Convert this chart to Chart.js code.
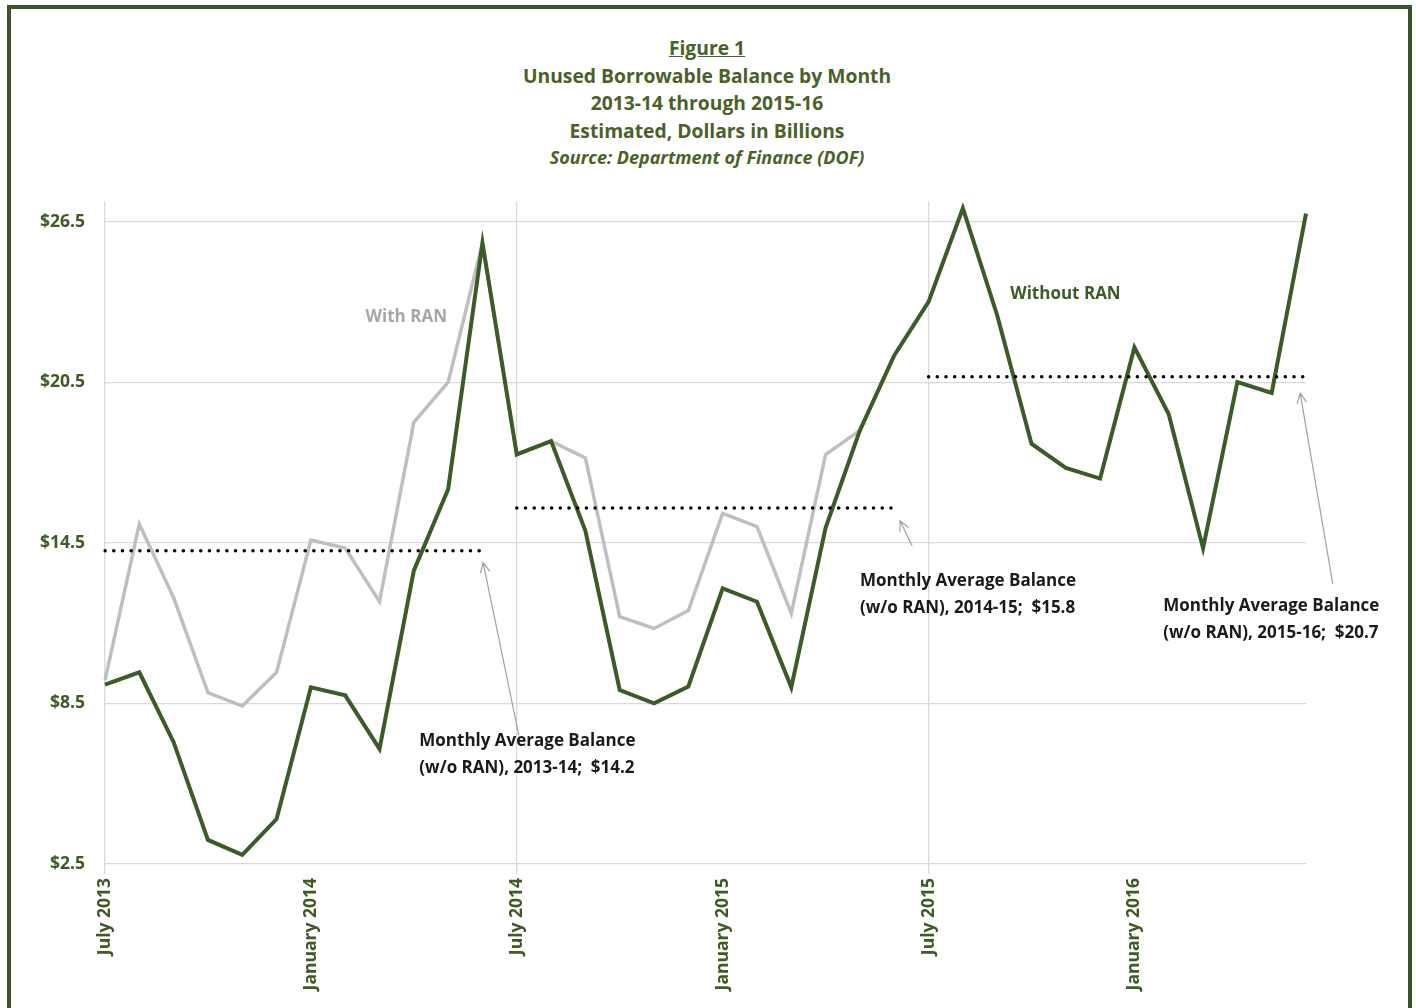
<!DOCTYPE html>
<html>
<head>
<meta charset="utf-8">
<script src="https://cdn.jsdelivr.net/npm/chart.js@4.4.0/dist/chart.umd.min.js"></script>
<style>
  html, body { margin: 0; padding: 0; background: #fff; }
  body { width: 1416px; height: 1008px; position: relative; overflow: hidden; font-family: "Open Sans", sans-serif; }
  #frame { position: absolute; left: 7px; top: 5px; width: 1405px; height: 1020px; box-sizing: border-box; border: 4px solid #3d5229; pointer-events: none; }
  #titles { position: absolute; left: 0; top: 34px; width: 1414px; text-align: center; color: #4a6128; font-weight: bold; font-size: 19.3px; line-height: 27.5px; }
  #titles .fig { text-decoration: underline; }
  #titles .src { font-style: italic; font-size: 18px; }
  #wrap { position: absolute; left: 0; top: 171px; width: 1416px; height: 837px; }
</style>
</head>
<body>
<div id="titles">
  <div class="fig">Figure 1</div>
  <div>Unused Borrowable Balance by Month</div>
  <div>2013-14 through 2015-16</div>
  <div>Estimated, Dollars in Billions</div>
  <div class="src">Source: Department of Finance (DOF)</div>
</div>
<div id="wrap"><canvas id="chartBal"></canvas></div>
<div id="frame"></div>
<script>
var monthNames = ["July", "August", "September", "October", "November", "December",
  "January", "February", "March", "April", "May", "June"];
var fiscalYears = [2013, 2014, 2015];

// july 2013 .. june 2016
var months = [];
fiscalYears.forEach(function (yr) {
  monthNames.forEach(function (m, k) {
    months.push(m + " " + (k < 6 ? yr : yr + 1));
  });
});

var withoutRan = [9.2, 9.66, 7.05, 3.4, 2.84, 4.18, 9.1, 8.8, 6.8, 13.46, 16.5, 25.7,
  17.8, 18.3, 14.95, 9.0, 8.5, 9.13, 12.8, 12.3, 9.1, 15.06, 18.7, 21.5,
  23.5, 27.0, 23.0, 18.2, 17.3, 16.9, 21.8, 19.3, 14.3, 20.5, 20.1, 26.8];

var withRan = [9.36, 15.2, 12.45, 8.9, 8.4, 9.66, 14.6, 14.3, 12.3, 19.0, 20.5, 25.7,
  17.8, 18.3, 17.67, 11.74, 11.3, 11.97, 15.6, 15.1, 11.86, 17.8, 18.7, null,
  null, null, null, null, null, null, null, null, null, null, null, null];

var avgBalance = [14.2, 15.8, 20.7];
var yTicks = [2.5, 8.5, 14.5, 20.5, 26.5];

var green = "#3b5b27";
var tickGreen = "#3f5a24";
var fontFam = "'Open Sans'";

// one dotted dataset per fiscal year
var avgSets = avgBalance.map(function (v, f) {
  var arr = months.map(function (m, i) {
    return (i >= f * 12 && i < f * 12 + 12) ? v : null;
  });
  return {
    label: "avg " + fiscalYears[f],
    data: arr,
    borderColor: "#000",
    borderWidth: 3.5,
    borderDash: [0.1, 8.6],
    borderCapStyle: "round",
    pointRadius: 0,
    spanGaps: false,
    order: 0
  };
});

var notes = [
  { i: 8.78, v: 22.92, align: "center", color: "#a6a6a6", lines: ["With RAN"] },
  { i: 27.99, v: 23.78, align: "center", color: green, lines: ["Without RAN"] },
  { i: 9.16, v: 7.08, align: "left", color: "#1a1a1a", lines: ["Monthly Average Balance", "(w/o RAN), 2013-14;  $14.2"] },
  { i: 22.0, v: 13.05, align: "left", color: "#1a1a1a", lines: ["Monthly Average Balance", "(w/o RAN), 2014-15;  $15.8"] },
  { i: 30.84, v: 12.15, align: "left", color: "#1a1a1a", lines: ["Monthly Average Balance", "(w/o RAN), 2015-16;  $20.7"] }
];
var arrows = [
  { from: [12.06, 7.31], to: [11.02, 13.76] },
  { from: [23.52, 14.39], to: [23.17, 15.32] },
  { from: [35.78, 12.97], to: [34.83, 20.09] }
];

const notesPlugin = {
  id: "notes",
  afterDatasetsDraw(chart) {
    const ctx = chart.ctx;
    const x = chart.scales.x, y = chart.scales.y;
    ctx.save();
    ctx.font = "bold 17px " + fontFam;
    ctx.textBaseline = "middle";
    notes.forEach(function (n) {
      ctx.fillStyle = n.color;
      ctx.textAlign = n.align;
      n.lines.forEach(function (t, k) {
        ctx.fillText(t, x.getPixelForValue(n.i), y.getPixelForValue(n.v) + k * 27);
      });
    });
    ctx.strokeStyle = "#a0a0a0";
    ctx.lineWidth = 1.2;
    arrows.forEach(function (a) {
      var x1 = x.getPixelForValue(a.from[0]), y1 = y.getPixelForValue(a.from[1]);
      var x2 = x.getPixelForValue(a.to[0]), y2 = y.getPixelForValue(a.to[1]);
      var ang = Math.atan2(y2 - y1, x2 - x1);
      ctx.beginPath();
      ctx.moveTo(x1, y1);
      ctx.lineTo(x2, y2);
      ctx.moveTo(x2 - 11 * Math.cos(ang - 0.45), y2 - 11 * Math.sin(ang - 0.45));
      ctx.lineTo(x2, y2);
      ctx.lineTo(x2 - 11 * Math.cos(ang + 0.45), y2 - 11 * Math.sin(ang + 0.45));
      ctx.stroke();
    });
    ctx.restore();
  }
};

const config = {
  type: "line",
  data: {
    labels: months,
    datasets: avgSets.concat([
      {
        label: "Without RAN",
        data: withoutRan,
        borderColor: green,
        borderWidth: 4,
        pointRadius: 0,
        tension: 0,
        order: 1
      },
      {
        label: "With RAN",
        data: withRan,
        borderColor: "#bfbfbf",
        borderWidth: 3.5,
        pointRadius: 0,
        tension: 0,
        order: 2
      }
    ])
  },
  options: {
    responsive: true,
    maintainAspectRatio: false,
    animation: false,
    layout: { padding: { top: 9, right: 110, left: 0, bottom: 0 } },
    plugins: {
      legend: { display: false },
      tooltip: { enabled: false }
    },
    scales: {
      x: {
        border: { display: false },
        grid: {
          color: function (c) { return c.index % 12 === 0 ? "#d9d9d9" : "rgba(0,0,0,0)"; },
          lineWidth: 1.3,
          tickLength: 10
        },
        ticks: {
          autoSkip: false,
          minRotation: 90,
          maxRotation: 90,
          padding: 4,
          color: tickGreen,
          font: { family: fontFam, weight: "bold", size: 17.5 },
          callback: function (val, i) { return i % 6 === 0 ? months[i] : ""; }
        },
        afterFit: function (s) { s.height = 144; }
      },
      y: {
        min: 2.5,
        max: 27.25,
        border: { display: false },
        grid: { color: "#d9d9d9", lineWidth: 1.3, drawTicks: false },
        afterBuildTicks: function (s) { s.ticks = yTicks.map(function (v) { return { value: v }; }); },
        ticks: {
          padding: 20,
          color: tickGreen,
          font: { family: fontFam, weight: "bold", size: 17.5 },
          callback: function (v) { return "$" + v.toFixed(1); }
        },
        afterFit: function (s) { s.width = 105; }
      }
    }
  },
  plugins: [notesPlugin]
};

var chartBal;
Promise.all([document.fonts.load("bold 16px 'Open Sans'"), document.fonts.load("italic bold 16px 'Open Sans'")]).then(function () {
  chartBal = new Chart(document.getElementById("chartBal"), config);
});
</script>
</body>
</html>
